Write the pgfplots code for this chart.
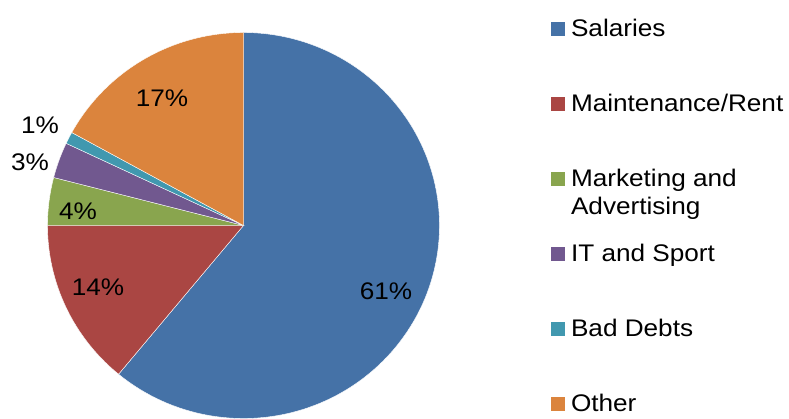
\documentclass[border=0pt]{standalone}
\usepackage{pgfplots}
\pgfplotsset{compat=1.18}
\usepackage{pgfplotstable}
\usepackage{fontspec}
\setmainfont{Liberation Sans}
\newfontfamily\chartfont[FakeStretch=1.09]{Liberation Sans}
\newcommand{\cf}{\chartfont\fontsize{24bp}{28bp}\selectfont}
\definecolor{cSal}{HTML}{4572A7}
\definecolor{cMai}{HTML}{AA4643}
\definecolor{cMar}{HTML}{89A54E}
\definecolor{cIT}{HTML}{71588F}
\definecolor{cBad}{HTML}{4198AF}
\definecolor{cOth}{HTML}{DB843D}
\pgfplotstableread{
value
61
14
4
3
1
17
}\piedata
\def\cx{243.5}
\def\cy{193.5}
\def\rx{196}
\def\ry{193}
\newcommand{\slice}[3]{% row, color, samples
  \pgfplotstablegetelem{#1}{value}\of\piedata
  \pgfmathsetmacro\sstart{\cum}%
  \pgfmathsetmacro\sstop{\cum-3.6*\pgfplotsretval}%
  \xdef\cum{\sstop}%
  \addplot[fill=#2, draw=white, line width=0.4pt, domain=\sstop:\sstart, samples=#3]
    ({\cx+\rx*cos(x)},{\cy+\ry*sin(x)}) -- (axis cs:\cx,\cy) -- cycle;
}
\begin{document}
\begin{tikzpicture}
\begin{axis}[
  scale only axis, width=789bp, height=419bp,
  xmin=0, xmax=789, ymin=0, ymax=419,
  hide axis,
  legend style={at={(axis cs:551,398)}, anchor=north west, draw=none, fill=none,
    inner sep=0pt, outer sep=0pt, row sep=53bp, column sep=6bp,
    font=\cf,
    nodes={inner sep=0pt, text height=16bp, text depth=6bp}},
  legend cell align=left,
  legend image code/.code={\fill[#1,draw=none] (0bp,-4bp) rectangle (14bp,10bp);},
]
\xdef\cum{90}
\slice{0}{cSal}{120}
\addlegendentry{Salaries}
\slice{1}{cMai}{30}
\addlegendentry{Maintenance/Rent}
\slice{2}{cMar}{10}
\addlegendentry{\parbox[t]{200bp}{Marketing and\\Advertising}}
\slice{3}{cIT}{10}
\addlegendentry{IT and Sport}
\slice{4}{cBad}{6}
\addlegendentry{Bad Debts}
\slice{5}{cOth}{40}
\addlegendentry{Other}
\node[font=\cf] at (axis cs:386,128) {61\%};
\node[font=\cf] at (axis cs:98,132) {14\%};
\node[font=\cf] at (axis cs:78,208) {4\%};
\node[font=\cf] at (axis cs:30,257) {3\%};
\node[font=\cf] at (axis cs:40,294) {1\%};
\node[font=\cf] at (axis cs:162,321) {17\%};
\end{axis}
\pgfresetboundingbox
\path[use as bounding box] (current axis.south west) rectangle (current axis.north east);
\end{tikzpicture}
\end{document}
